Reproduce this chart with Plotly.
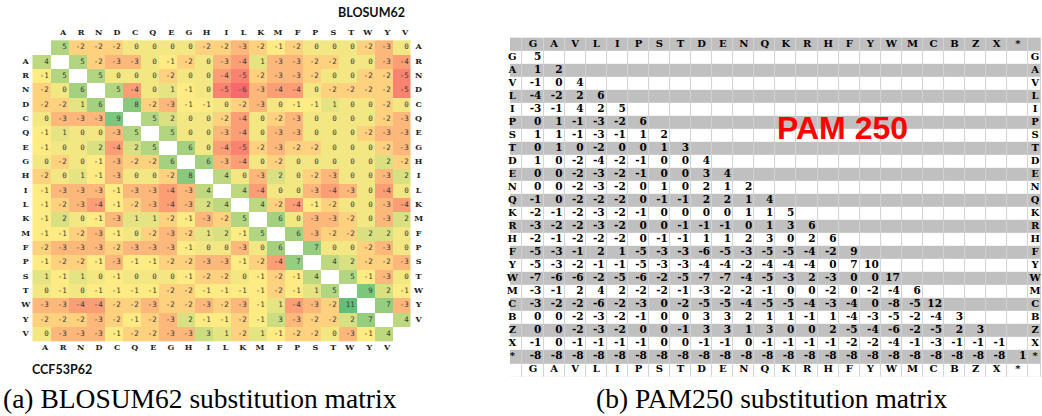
import plotly.graph_objects as go

W, H = 1042, 416

# ---------------- (a) combined substitution matrix ----------------
aa20 = ["A", "R", "N", "D", "C", "Q", "E", "G", "H", "I",
        "L", "K", "M", "F", "P", "S", "T", "W", "Y", "V"]

# upper triangle (labels top / right): row i holds columns j = i..19
upper_tri = [
    [5, -2, -2, -2, 0, 0, 0, 0, -2, -2, -3, -2, -1, -2, 0, 0, 0, -2, -3, 0],
    [5, -2, -3, -3, 0, -1, -2, 0, -3, -4, 1, -3, -3, -2, -2, 0, 0, -3, -4],
    [5, 0, 0, 0, -2, 0, 0, -4, -5, -2, -3, -3, -2, 0, 0, -2, -2, -5],
    [5, -4, 0, 1, -1, 0, -5, -6, -3, -4, -4, 0, -2, -2, -2, -2, -5],
    [8, -2, -3, -1, -1, 0, -2, -3, 0, -1, -1, 1, 0, 0, -2, 0],
    [5, 2, 0, 0, -2, -4, 0, -2, -3, 0, 0, 0, 0, -2, -3],
    [5, 0, 0, -3, -4, 0, -3, -3, 0, 0, 0, -2, -3, -3],
    [6, 0, -4, -5, -2, -3, -2, -2, 0, 0, 0, -2, -3],
    [6, -3, -4, 0, -2, 0, 0, 0, 0, 0, 2, -2],
    [4, 0, -3, 2, 0, -2, -3, 0, 0, -3, 2],
    [4, -4, 0, 0, -3, -4, -3, 0, -4, 0],
    [4, -2, -4, -1, -2, 0, 0, -3, -4],
    [6, 0, -3, -3, -2, 0, -3, 2],
    [6, -3, -2, -2, 2, 2, 0],
    [7, 0, 0, -2, -3, 0],
    [4, 2, -2, -2, -3],
    [5, -1, -3, 0],
    [9, 2, -1],
    [7, -3],
    [4],
]

# lower triangle (labels left / bottom): row i holds columns j = 0..i
lower_tri = [
    [4],
    [-1, 5],
    [-2, 0, 6],
    [-2, -2, 1, 6],
    [0, -3, -3, -3, 9],
    [-1, 1, 0, 0, -3, 5],
    [-1, 0, 0, 2, -4, 2, 5],
    [0, -2, 0, -1, -3, -2, -2, 6],
    [-2, 0, 1, -1, -3, 0, 0, -2, 8],
    [-1, -3, -3, -3, -1, -3, -3, -4, -3, 4],
    [-1, -2, -3, -4, -1, -2, -3, -4, -3, 2, 4],
    [-1, 2, 0, -1, -3, 1, 1, -2, -1, -3, -2, 5],
    [-1, -1, -2, -3, -1, 0, -2, -3, -2, 1, 2, -1, 5],
    [-2, -3, -3, -3, -2, -3, -3, -3, -1, 0, 0, -3, 0, 6],
    [-1, -2, -2, -1, -3, -1, -1, -2, -2, -3, -3, -1, -2, -4, 7],
    [1, -1, 1, 0, -1, 0, 0, 0, -1, -2, -2, 0, -1, -2, -1, 4],
    [0, -1, 0, -1, -1, -1, -1, -2, -2, -1, -1, -1, -1, -2, -1, 1, 5],
    [-3, -3, -4, -4, -2, -2, -3, -2, -2, -3, -2, -3, -1, 1, -4, -3, -2, 11],
    [-2, -2, -2, -3, -2, -1, -2, -3, 2, -1, -1, -2, -1, 3, -3, -2, -2, 2, 7],
    [0, -3, -3, -3, -1, -2, -2, -3, -3, 3, 1, -2, 1, -1, -2, -2, 0, -3, -1, 4],
]

# ---------------- (b) PAM250 ----------------
pam_order = ["G", "A", "V", "L", "I", "P", "S", "T", "D", "E", "N", "Q",
             "K", "R", "H", "F", "Y", "W", "M", "C", "B", "Z", "X", "*"]
pam_lower = [
    [5],
    [1, 2],
    [-1, 0, 4],
    [-4, -2, 2, 6],
    [-3, -1, 4, 2, 5],
    [0, 1, -1, -3, -2, 6],
    [1, 1, -1, -3, -1, 1, 2],
    [0, 1, 0, -2, 0, 0, 1, 3],
    [1, 0, -2, -4, -2, -1, 0, 0, 4],
    [0, 0, -2, -3, -2, -1, 0, 0, 3, 4],
    [0, 0, -2, -3, -2, 0, 1, 0, 2, 1, 2],
    [-1, 0, -2, -2, -2, 0, -1, -1, 2, 2, 1, 4],
    [-2, -1, -2, -3, -2, -1, 0, 0, 0, 0, 1, 1, 5],
    [-3, -2, -2, -3, -2, 0, 0, -1, -1, -1, 0, 1, 3, 6],
    [-2, -1, -2, -2, -2, 0, -1, -1, 1, 1, 2, 3, 0, 2, 6],
    [-5, -3, -1, 2, 1, -5, -3, -3, -6, -5, -3, -5, -5, -4, -2, 9],
    [-5, -3, -2, -1, -1, -5, -3, -3, -4, -4, -2, -4, -4, -4, 0, 7, 10],
    [-7, -6, -6, -2, -5, -6, -2, -5, -7, -7, -4, -5, -3, 2, -3, 0, 0, 17],
    [-3, -1, 2, 4, 2, -2, -2, -1, -3, -2, -2, -1, 0, 0, -2, 0, -2, -4, 6],
    [-3, -2, -2, -6, -2, -3, 0, -2, -5, -5, -4, -5, -5, -4, -3, -4, 0, -8, -5, 12],
    [0, 0, -2, -3, -2, -1, 0, 0, 3, 3, 2, 1, 1, -1, 1, -4, -3, -5, -2, -4, 3],
    [0, 0, -2, -3, -2, 0, 0, -1, 3, 3, 1, 3, 0, 0, 2, -5, -4, -6, -2, -5, 2, 3],
    [-1, 0, -1, -1, -1, -1, 0, 0, -1, -1, 0, -1, -1, -1, -1, -2, -2, -4, -1, -3, -1, -1, -1],
    [-8, -8, -8, -8, -8, -8, -8, -8, -8, -8, -8, -8, -8, -8, -8, -8, -8, -8, -8, -8, -8, -8, -8, 1],
]

captions = ["(a) BLOSUM62 substitution matrix", "(b) PAM250 substitution matrix"]

# ================= build figure =================
fig = go.Figure()

# ---- left: combined matrix grid (21 x 21) ----
n = len(aa20)
N = n + 1
zL = [[None] * N for _ in range(N)]
for r in range(N):
    for c in range(N):
        if c < r:
            zL[r][c] = lower_tri[r - 1][c]
        elif c > r:
            zL[r][c] = upper_tri[r][c - 1 - r]

fig.add_trace(go.Heatmap(
    z=zL, x=list(range(N)), y=list(range(N)),
    colorscale=[[0, "#F8696B"], [5 / 17, "#FFEB84"], [1, "#63BE7B"]],
    zmin=-6, zmax=11, showscale=False, hoverinfo="skip",
    xaxis="x", yaxis="y"))

tx, ty, tt = [], [], []
for r in range(N):
    for c in range(N):
        if zL[r][c] is not None:
            tx.append(c + 0.40)
            ty.append(r)
            tt.append(str(zL[r][c]))
fig.add_trace(go.Scatter(
    x=tx, y=ty, text=tt, mode="text", textposition="middle left",
    textfont=dict(family="DejaVu Sans Mono", size=7.5, color="#3a3a3a"),
    hoverinfo="skip", cliponaxis=False, xaxis="x", yaxis="y"))

lab_font = dict(family="DejaVu Serif", size=8, color="#222222", weight="bold")
# top labels (cols 1..20) and bottom labels (cols 0..19)
fig.add_trace(go.Scatter(
    x=[c + 1 + 0.38 for c in range(n)] + [c + 0.38 for c in range(n)],
    y=[-1] * n + [N] * n, text=aa20 + aa20, mode="text",
    textposition="middle left", textfont=lab_font, hoverinfo="skip",
    cliponaxis=False, xaxis="x", yaxis="y"))
# left labels (rows 1..20) and right labels (rows 0..19)
fig.add_trace(go.Scatter(
    x=[-0.88] * n + [20.95] * n,
    y=[r + 1 for r in range(n)] + [r for r in range(n)],
    text=aa20 + aa20, mode="text", textposition="middle center",
    textfont=lab_font, hoverinfo="skip", cliponaxis=False,
    xaxis="x", yaxis="y"))

# ---- right: PAM250 spreadsheet ----
m = len(pam_order)
x_edges = [-1.09] + [c - 0.5 for c in range(m + 1)] + [24.1]
y_edges = [r - 0.5 for r in range(-1, m + 2)]
n_rows = len(y_edges) - 1
n_cols = len(x_edges) - 1

# grid-line colour underneath
fig.add_trace(go.Heatmap(
    z=[[1]], x=[x_edges[0], x_edges[-1]], y=[y_edges[0], y_edges[-1]],
    colorscale=[[0, "#D2D2D2"], [1, "#D2D2D2"]], showscale=False,
    hoverinfo="skip", xaxis="x2", yaxis="y2"))
# alternating white / gray rows
z_bg = [[(i - 1) % 2 for _ in range(n_cols)] for i in range(n_rows)]
fig.add_trace(go.Heatmap(
    z=z_bg, x=x_edges, y=y_edges, xgap=1, ygap=0,
    colorscale=[[0, "#FFFFFF"], [1, "#C0C0C0"]], zmin=0, zmax=1,
    showscale=False, hoverinfo="skip", xaxis="x2", yaxis="y2"))

px_, py_, pt_ = [], [], []
for r, row in enumerate(pam_lower):
    for c, v in enumerate(row):
        px_.append(c + 0.40)
        py_.append(r)
        pt_.append(str(v))
fig.add_trace(go.Scatter(
    x=px_, y=py_, text=pt_, mode="text", textposition="middle left",
    textfont=dict(family="DejaVu Serif", size=10.5, color="#000000", weight="bold"),
    hoverinfo="skip", cliponaxis=False, xaxis="x2", yaxis="y2"))

plab = dict(family="DejaVu Serif", size=10, color="#000000", weight="bold")
fig.add_trace(go.Scatter(
    x=list(range(m)) * 2 + [-0.98] * m + [23.82] * m,
    y=[-1] * m + [m] * m + list(range(m)) * 2,
    text=pam_order * 4, mode="text", textposition="middle center",
    textfont=plab, hoverinfo="skip", cliponaxis=False,
    xaxis="x2", yaxis="y2"))

# ---- axes (pixel-matched domains) ----
def dom_x(p0, p1):
    return [p0 / W, p1 / W]

def dom_y(top, bottom):
    return [(H - bottom) / H, (H - top) / H]

cwL, c0L = 18.0, 41.5
rhL, r0L = 14.33, 47.5
xrL = [-1.6, 21.6]
yrL = [21.6, -1.6]
cwR, c0R = 21.08, 533.0
rhR, r0R = 13.02, 57.3
xrR = [-1.3, 24.1]
yrR = [25.0, -1.8]

hidden = dict(visible=False, showgrid=False, zeroline=False, fixedrange=True)
fig.update_layout(
    xaxis=dict(domain=dom_x(c0L + xrL[0] * cwL, c0L + xrL[1] * cwL), range=xrL, anchor="y", **hidden),
    yaxis=dict(domain=dom_y(r0L + yrL[1] * rhL, r0L + yrL[0] * rhL), range=yrL, anchor="x", **hidden),
    xaxis2=dict(domain=dom_x(c0R + xrR[0] * cwR, c0R + xrR[1] * cwR), range=xrR, anchor="y2", **hidden),
    yaxis2=dict(domain=dom_y(r0R + yrR[1] * rhR, r0R + yrR[0] * rhR), range=yrR, anchor="x2", **hidden),
)

ann = []
ann.append(dict(text="BLOSUM62", x=372 / W, y=(H - 12.7) / H, xref="paper", yref="paper",
                showarrow=False, xanchor="center", yanchor="middle",
                font=dict(family="Lato", size=12.5, color="#111111", weight="bold")))
ann.append(dict(text="CCF53P62", x=62 / W, y=(H - 369) / H, xref="paper", yref="paper",
                showarrow=False, xanchor="center", yanchor="middle",
                font=dict(family="Lato", size=12.5, color="#111111", weight="bold")))
ann.append(dict(text="PAM 250", x=842 / W, y=(H - 128) / H, xref="paper", yref="paper",
                showarrow=False, xanchor="center", yanchor="middle",
                font=dict(family="Liberation Sans", size=32, color="#FF0000", weight="bold")))
for cap, cx in zip(captions, [200, 771.5]):
    ann.append(dict(text=cap, x=cx / W, y=(H - 398) / H, xref="paper", yref="paper",
                    showarrow=False, xanchor="center", yanchor="middle",
                    font=dict(family="Liberation Serif", size=27.5, color="#000000")))

fig.update_layout(
    width=W, height=H, margin=dict(l=0, r=0, t=0, b=0, pad=0),
    paper_bgcolor="white", plot_bgcolor="white", showlegend=False,
    annotations=ann)

fig.write_html("out.html", config={"displayModeBar": False})
